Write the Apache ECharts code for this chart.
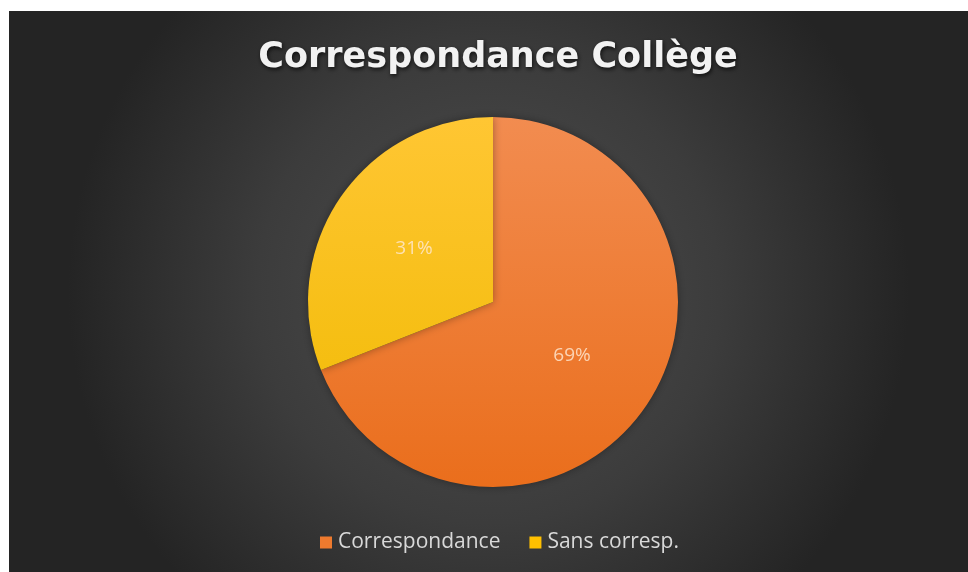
<!DOCTYPE html>
<html>
<head>
<meta charset="utf-8">
<style>
html,body{margin:0;padding:0;background:#ffffff;}
#chart{width:968px;height:572px;}
</style>
<script src="https://cdn.jsdelivr.net/npm/echarts@6/dist/echarts.min.js"></script>
</head>
<body>
<div id="chart"></div>
<script>
var titleText = 'Correspondance Collège';
var categories = ['Correspondance', 'Sans corresp.'];
var values = [69, 31];

var chart = echarts.init(document.getElementById('chart'), null, {renderer: 'canvas'});

function grad(top, bottom) {
  return {
    type: 'linear', x: 0, y: 117, x2: 0, y2: 487, global: true,
    colorStops: [{offset: 0, color: top}, {offset: 1, color: bottom}]
  };
}
var sliceColors = [grad('#F28C50', '#EA6E1C'), grad('#FFC633', '#F0BA00')];
var legendColors = ['#EE7A2E', '#FFC000'];

chart.setOption({
  backgroundColor: '#ffffff',
  animation: false,
  graphic: [{
    type: 'rect',
    z: -10,
    silent: true,
    shape: {x: 9, y: 11, width: 959, height: 561},
    style: {
      fill: {
        type: 'radial', x: 0.5, y: 0.5, r: 0.75,
        colorStops: [
          {offset: 0, color: '#4f4f4f'},
          {offset: 0.55, color: '#3c3c3c'},
          {offset: 1, color: '#242424'}
        ]
      }
    }
  }],
  title: {
    text: titleText,
    left: 493,
    textAlign: 'center',
    top: 35,
    textStyle: {
      color: '#f2f2f2',
      fontFamily: 'DejaVu Sans',
      fontWeight: 'bold',
      fontSize: 35,
      textShadowColor: 'rgba(0,0,0,0.7)',
      textShadowBlur: 4,
      textShadowOffsetX: 1,
      textShadowOffsetY: 2
    }
  },
  legend: {
    data: categories.map(function (c, i) {
      return {name: c, itemStyle: {color: legendColors[i]}};
    }),
    left: 315,
    top: 527,
    padding: 5,
    itemWidth: 12,
    itemHeight: 12,
    itemGap: 29,
    icon: 'rect',
    textStyle: {color: '#d9d9d9', fontFamily: 'Open Sans', fontSize: 21, padding: [0, 0, 0, 1]}
  },
  series: [{
    type: 'pie',
    center: [493, 302],
    radius: 185,
    startAngle: 90,
    clockwise: true,
    avoidLabelOverlap: false,
    label: {
      show: true,
      position: 'inside',
      formatter: '{d}%',
      color: 'rgba(255,232,210,0.82)',
      fontFamily: 'Open Sans',
      fontSize: 19
    },
    labelLine: {show: false},
    itemStyle: {
      borderWidth: 0,
      shadowColor: 'rgba(0,0,0,0.35)',
      shadowBlur: 8
    },
    emphasis: {disabled: true},
    data: categories.map(function (c, i) {
      return {name: c, value: values[i], itemStyle: {color: sliceColors[i]}};
    })
  }]
});
</script>
</body>
</html>
